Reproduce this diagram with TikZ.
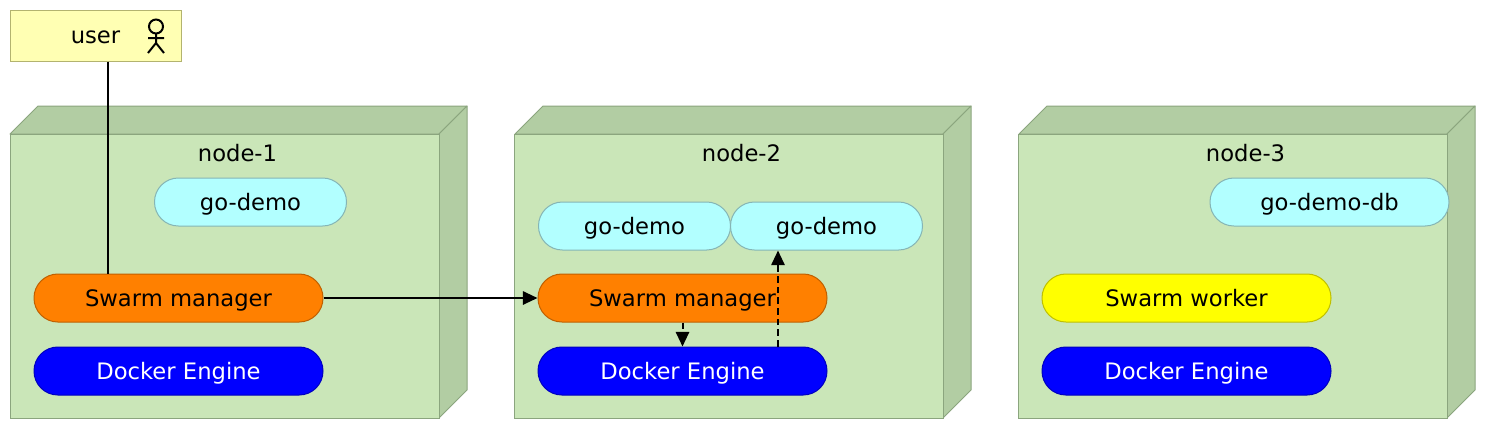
\documentclass[tikz,border=0pt]{standalone}
\usepackage{fontspec}
\setmainfont{DejaVu Sans}
\usetikzlibrary{arrows.meta,positioning}
\definecolor{frontGreen}{HTML}{CAE6B8}
\definecolor{sideGreen}{HTML}{B2CDA3}
\definecolor{edgeGreen}{HTML}{8BA57E}
\definecolor{noteYellow}{HTML}{FFFFB3}
\definecolor{noteEdge}{HTML}{B3B36F}
\definecolor{taskCyan}{HTML}{B2FFFF}
\definecolor{taskEdge}{HTML}{85B5B5}
\definecolor{managerOrange}{HTML}{FF8000}
\definecolor{managerEdge}{HTML}{BF6000}
\definecolor{engineBlue}{HTML}{0000FF}
\definecolor{engineEdge}{HTML}{0000BF}
\definecolor{workerYellow}{HTML}{FFFF00}
\definecolor{workerEdge}{HTML}{BFBF00}
\tikzset{
    hostface/.style={
        rectangle,
        draw=edgeGreen,
        line width=0.75pt,
        fill=frontGreen,
        inner sep=0pt,
        minimum width=321.75pt,
        minimum height=213pt
    },
    hostside/.style={
        draw=edgeGreen,
        line width=0.75pt,
        fill=sideGreen,
        line join=round
    },
    hostlabel/.style={
        font=\fontsize{17}{20}\selectfont,
        text height=12pt,
        text depth=0pt,
        inner sep=0pt
    },
    pill/.style={
        hostlabel,
        rectangle,
        rounded corners=17.9pt,
        line width=0.75pt,
        minimum height=36pt
    },
    task/.style={pill, draw=taskEdge, fill=taskCyan, minimum width=144pt},
    manager/.style={pill, draw=managerEdge, fill=managerOrange, minimum width=216.75pt},
    worker/.style={pill, draw=workerEdge, fill=workerYellow, minimum width=216.75pt},
    engine/.style={pill, draw=engineEdge, fill=engineBlue, text=white, minimum width=216.75pt},
    actorbox/.style={
        rectangle,
        draw=noteEdge,
        line width=0.75pt,
        fill=noteYellow,
        inner sep=0pt,
        minimum width=128.25pt,
        minimum height=38.25pt
    },
    arrow/.style={-{Triangle[length=11pt,width=10pt]},line width=1.5pt,draw=black},
    dasharrow/.style={arrow,dash pattern=on 5pt off 3pt}
}

\begin{document}
\begin{tikzpicture}[x=0.75pt,y=-0.75pt,node distance=18pt]
    \useasboundingbox (0,0) rectangle (1486,430);

    % boxes
    \draw[hostside] (10,134) -- (38,106) -- (467,106) -- (439,134) -- cycle;
    \draw[hostside] (439,134) -- (467,106) -- (467,390) -- (439,418) -- cycle;
    \node[hostface] (node1) at (224.5,276) {};
    \draw[hostside] (515,134) -- (543,106) -- (971,106) -- (943,134) -- cycle;
    \draw[hostside] (943,134) -- (971,106) -- (971,390) -- (943,418) -- cycle;
    \node[hostface] (node2) at (728.5,276) {};
    \draw[hostside] (1019,134) -- (1047,106) -- (1475,106) -- (1447,134) -- cycle;
    \draw[hostside] (1447,134) -- (1475,106) -- (1475,390) -- (1447,418) -- cycle;
    \node[hostface] (node3) at (1232.5,276) {};

    \node[hostlabel] at (237.5,153) {node-1};
    \node[hostlabel] at (741.5,153) {node-2};
    \node[hostlabel] at (1245.5,153) {node-3};

    % user
    \node[actorbox] (user) at (95.5,35.5) {};
    \node[hostlabel] at (95.5,35.5) {user};
    \draw[line width=1.5pt] (156,26.5) circle (5.25pt);
    \draw[line width=1.5pt] (156,33.5) -- (156,43) (148,38) -- (164,38)
        (148,53) -- (156,43) -- (164,53);

    % node-1
    \node[manager] (manager1) at (178.5,298) {Swarm manager};
    \node[engine, below=of manager1] (engine1) {Docker Engine};
    \node[task] (demo1) at (250.5,202) {go-demo};

    % node-2
    \node[manager] (manager2) at (682.5,298) {Swarm manager};
    \node[engine, below=of manager2] (engine2) {Docker Engine};
    \node[task] (demo2) at (634.5,226) {go-demo};
    \node[task] (demo3) at (826.5,226) {go-demo};

    % node-3
    \node[worker] (worker3) at (1186.5,298) {Swarm worker};
    \node[engine, below=of worker3] (engine3) {Docker Engine};
    \node[task, minimum width=179.25pt] (demodb) at (1329.5,202) {go-demo-db};

    % connectors
    \coordinate (dropx) at (107.5,0);
    \coordinate (riserx) at (778,0);
    \draw[line width=1.5pt] (user.south -| dropx) -- (manager1.north -| dropx);
    \draw[arrow] (manager1) -- (manager2);
    \draw[dasharrow] (manager2) -- (engine2);
    \draw[dasharrow] (engine2.north -| riserx) -- (demo3.south -| riserx);
\end{tikzpicture}
\end{document}
